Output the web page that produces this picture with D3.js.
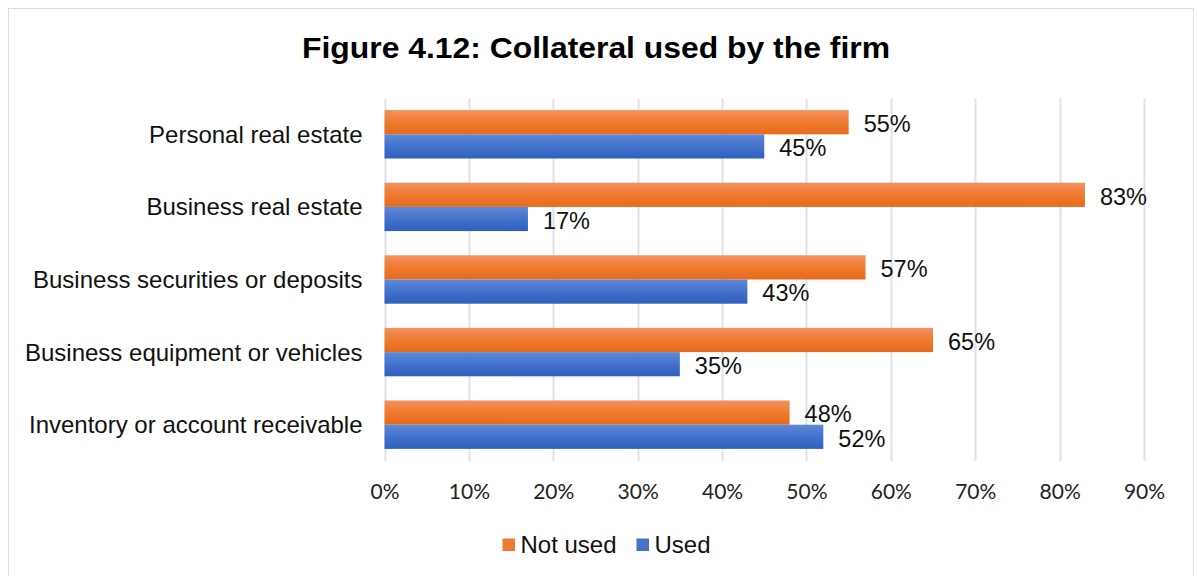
<!DOCTYPE html>
<html>
<head>
<meta charset="utf-8">
<script src="https://cdn.jsdelivr.net/npm/d3@7"></script>
<style>
  html, body { margin: 0; padding: 0; background: #fff; }
  svg { display: block; }
</style>
</head>
<body>
<svg id="chart" width="1197" height="576"></svg>
<script>
// Collateral types, top to bottom
const categories = [
  "Personal real estate",
  "Business real estate",
  "Business securities or deposits",
  "Business equipment or vehicles",
  "Inventory or account receivable"
];
const seriesNames = ["Not used", "Used"];
const notUsed = [55, 83, 57, 65, 48];
const used = [45, 17, 43, 35, 52];
const tickValues = [0, 10, 20, 30, 40, 50, 60, 70, 80, 90];
const titleText = "Figure 4.12: Collateral used by the firm";

const svg = d3.select("#chart");

// gradients for the bar fills
const defs = svg.append("defs");
function grad(id, stops) {
  const g = defs.append("linearGradient").attr("id", id)
    .attr("x1", 0).attr("y1", 0).attr("x2", 0).attr("y2", 1);
  stops.forEach(([o, c]) => g.append("stop").attr("offset", o).attr("stop-color", c));
}
grad("gOrange", [[0, "#F39262"], [0.5, "#EF7A2E"], [1, "#E56B1B"]]);
grad("gBlue", [[0, "#5E89D7"], [0.5, "#4372CC"], [1, "#2F60BE"]]);
const fills = { "Not used": "url(#gOrange)", "Used": "url(#gBlue)" };
const swatch = { "Not used": "#EE7B30", "Used": "#4472C4" };

const FONT = "Liberation Sans, Arial, sans-serif";

// chart frame
svg.append("rect").attr("x", 8.5).attr("y", 8.5).attr("width", 1185).attr("height", 580)
  .attr("fill", "#fff").attr("stroke", "#D9DDE3").attr("stroke-width", 1);

// title
svg.append("text")
  .attr("x", 596).attr("y", 58)
  .attr("text-anchor", "middle")
  .attr("font-family", FONT)
  .attr("font-weight", "bold").attr("font-size", 30)
  .attr("textLength", 588).attr("lengthAdjust", "spacingAndGlyphs")
  .attr("fill", "#000")
  .text(titleText);

const plot = { left: 384.5, right: 1144, top: 98, bottom: 461 };

const x = d3.scaleLinear().domain([0, 90]).range([plot.left, plot.right]);
const y = d3.scaleBand().domain(categories).range([plot.top, plot.bottom]).paddingInner(1/3).paddingOuter(1/6);
const ySub = d3.scaleBand().domain(seriesNames).range([0, y.bandwidth()]);

// vertical gridlines
svg.append("g").selectAll("line").data(tickValues).join("line")
  .attr("x1", d => Math.round(x(d)) + 0.5).attr("x2", d => Math.round(x(d)) + 0.5)
  .attr("y1", plot.top).attr("y2", plot.bottom)
  .attr("stroke", "#DDE1E8").attr("stroke-width", 2);

// x axis tick labels
const xAxis = d3.axisBottom(x).tickValues(tickValues).tickFormat(d => d + "%").tickSize(0).tickPadding(0);
const gx = svg.append("g").attr("transform", `translate(0,${plot.bottom + 31})`).call(xAxis);
gx.select(".domain").remove();
gx.selectAll("text")
  .attr("font-family", "Lato, 'Open Sans', sans-serif")
  .attr("font-size", 21).attr("fill", "#222")
  .attr("dy", "0.35em");

// y axis category labels
const yAxis = d3.axisLeft(y).tickSize(0).tickPadding(0);
const gy = svg.append("g").attr("transform", `translate(${plot.left - 22},0)`).call(yAxis);
gy.select(".domain").remove();
gy.selectAll("text")
  .attr("font-family", FONT)
  .attr("font-size", 24).attr("fill", "#111")
  .attr("dy", "0.35em");

// bars and value labels
const rows = categories.map((c, i) => ({ cat: c, values: { "Not used": notUsed[i], "Used": used[i] } }));
const groups = svg.append("g").selectAll("g").data(rows).join("g")
  .attr("transform", d => `translate(0,${y(d.cat)})`);

groups.selectAll("rect").data(d => seriesNames.map(s => ({ s, v: d.values[s] }))).join("rect")
  .attr("x", x(0))
  .attr("y", d => ySub(d.s))
  .attr("width", d => x(d.v) - x(0))
  .attr("height", ySub.bandwidth())
  .attr("fill", d => fills[d.s]);

groups.selectAll("text.val").data(d => seriesNames.map(s => ({ s, v: d.values[s] }))).join("text")
  .attr("class", "val")
  .attr("x", d => x(d.v) + 15)
  .attr("y", d => ySub(d.s) + ySub.bandwidth() / 2 + 1.5)
  .attr("dy", "0.35em")
  .attr("font-family", FONT)
  .attr("font-size", 23.5).attr("fill", "#111")
  .text(d => d.v + "%");

// legend
const legend = svg.append("g").attr("transform", "translate(502.5,545)");
const legendItems = [
  { name: seriesNames[0], x: 0 },
  { name: seriesNames[1], x: 134 }
];
legendItems.forEach(it => {
  const g = legend.append("g").attr("transform", `translate(${it.x},0)`);
  g.append("rect").attr("x", 0).attr("y", -6.5).attr("width", 12.5).attr("height", 12.5)
    .attr("fill", swatch[it.name]);
  g.append("text").attr("x", 18).attr("y", 0).attr("dy", "0.35em")
    .attr("font-family", FONT)
    .attr("font-size", 24).attr("fill", "#111")
    .text(it.name);
});
</script>
</body>
</html>
